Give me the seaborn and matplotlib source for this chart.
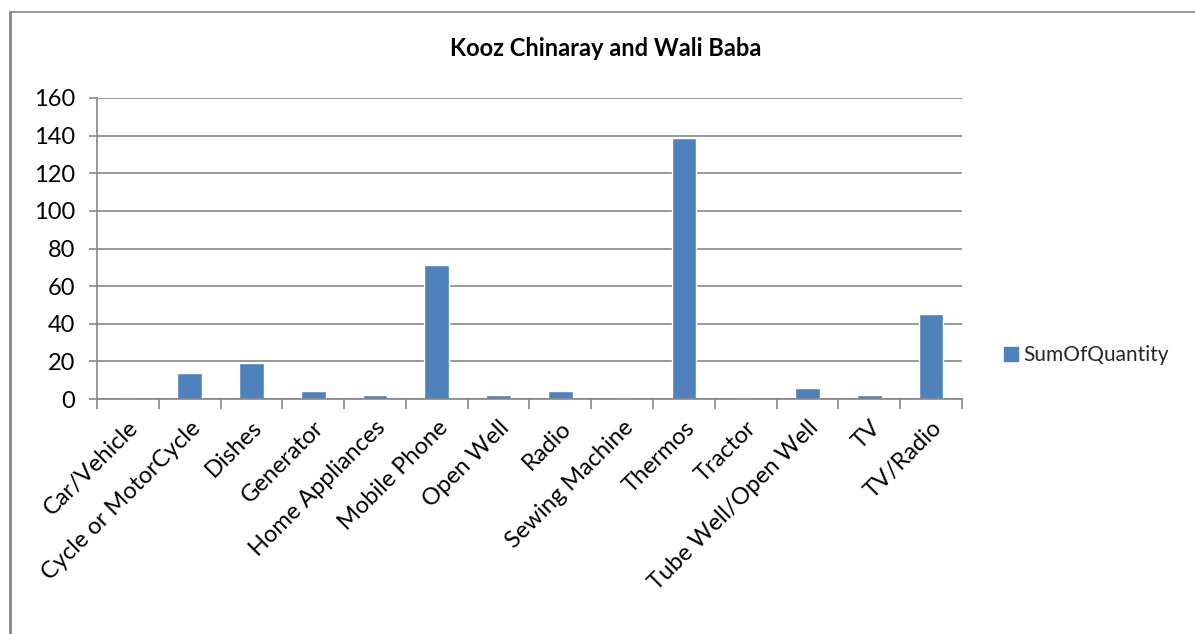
import matplotlib
matplotlib.use("Agg")
import matplotlib.pyplot as plt
from matplotlib.lines import Line2D
from matplotlib.ticker import FixedLocator, MultipleLocator
import seaborn as sns
import pandas as pd

categories = ["Car/Vehicle", "Cycle or MotorCycle", "Dishes", "Generator",
              "Home Appliances", "Mobile Phone", "Open Well", "Radio",
              "Sewing Machine", "Thermos", "Tractor", "Tube Well/Open Well",
              "TV", "TV/Radio"]
quantities = [0, 14, 19, 4, 2, 71, 2, 4, 0, 139, 0, 6, 2, 45]
series_name = "SumOfQuantity"
title = "Kooz Chinaray and Wali Baba"

sns.set_theme(style="white")
plt.rcParams["font.family"] = ["Lato", "DejaVu Sans"]

df = pd.DataFrame({"Item": categories, series_name: quantities})

fig = plt.figure(figsize=(11.95, 6.34), dpi=100)
ax = fig.add_axes([97 / 1195, 1 - 399 / 634, (962 - 97) / 1195, (399 - 98) / 634])

bar_color = "#4F81BD"
grid_color = "#868686"
label_size = 17

sns.barplot(data=df, x="Item", y=series_name, color=bar_color, width=0.4,
            saturation=1, label=series_name, ax=ax)

ax.set_xlim(-0.5, len(categories) - 0.5)
ax.set_ylim(0, 160)
ax.yaxis.set_major_locator(MultipleLocator(20))
ax.grid(axis="y", color=grid_color, linewidth=1.2)
ax.set_axisbelow(True)

for side in ["top", "right"]:
    ax.spines[side].set_visible(False)
for side in ["left", "bottom"]:
    ax.spines[side].set_color(grid_color)
    ax.spines[side].set_linewidth(1.2)

ax.set_xlabel("")
ax.set_ylabel("")

# category ticks sit between bars
ax.xaxis.set_minor_locator(FixedLocator([i - 0.5 for i in range(len(categories) + 1)]))
ax.tick_params(axis="x", which="major", length=0, pad=13)
ax.tick_params(axis="x", which="minor", bottom=True, length=7, width=1.2, color=grid_color)
ax.tick_params(axis="y", left=True, length=6, width=1.2, color=grid_color, pad=10)
ax.set_xticks(range(len(categories)))
ax.set_xticklabels(categories, rotation=45, ha="right", rotation_mode="anchor",
                   fontsize=label_size, color="black")
for lab in ax.get_yticklabels():
    lab.set_fontsize(label_size)
    lab.set_color("black")

fig.text(606 / 1195, 1 - 49 / 634, title, ha="center", va="center",
         fontsize=17, fontweight="bold", color="black")

handle = Line2D([], [], marker="s", linestyle="none", markersize=10,
                markerfacecolor=bar_color, markeredgecolor=bar_color)
leg = ax.legend([handle], [series_name], loc="center left",
                bbox_to_anchor=(982 / 1195, 1 - 355 / 634),
                bbox_transform=fig.transFigure, frameon=False,
                fontsize=15, handletextpad=0.1, handlelength=1.0)

# outer chart frame
fig.add_artist(Line2D([10 / 1195, 10 / 1195], [0, 1 - 12 / 634],
                      transform=fig.transFigure, color=grid_color, linewidth=2))
fig.add_artist(Line2D([10 / 1195, 1], [1 - 12 / 634, 1 - 12 / 634],
                      transform=fig.transFigure, color=grid_color, linewidth=1.2))

fig.savefig("out.png", dpi=100, facecolor="white")
